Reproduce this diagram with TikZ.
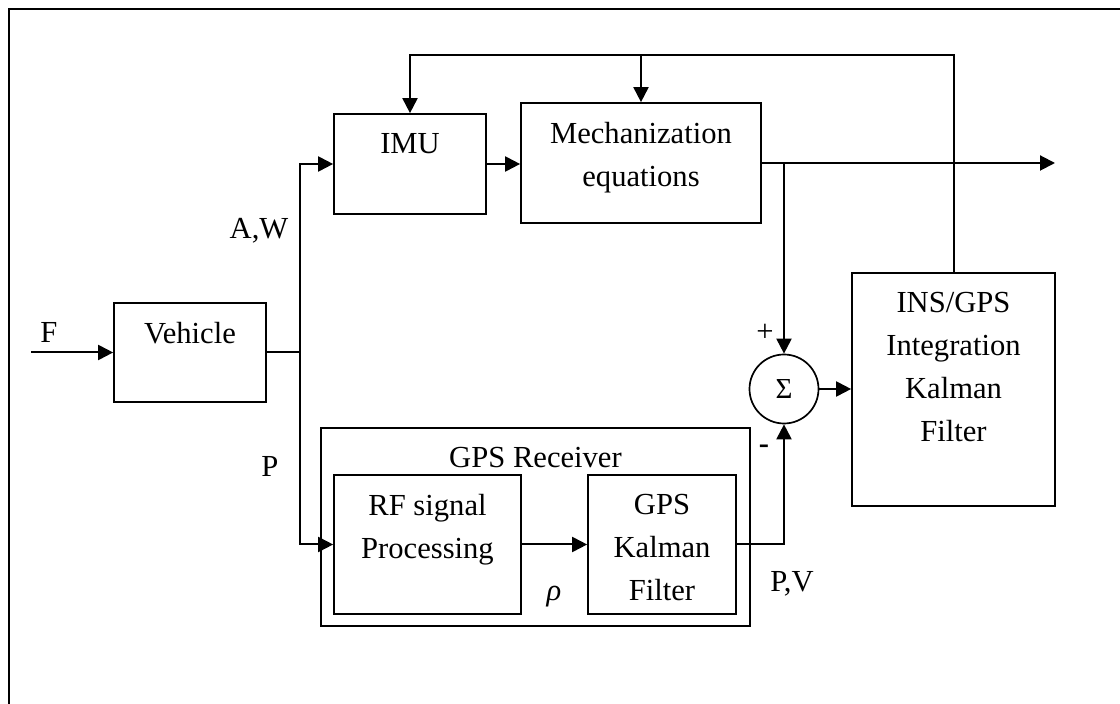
\documentclass[tikz,border=0pt]{standalone}
\usepackage{fontspec}
\setmainfont{Liberation Serif}
\usetikzlibrary{arrows.meta}

\tikzset{
  blk/.style={draw, line width=0.85pt, inner sep=0pt},
  boxtxt/.style={anchor=north, inner sep=0pt, align=center, yshift=-9.8pt},
  lbl/.style={inner sep=0pt, anchor=base},
  wire/.style={line width=1pt},
  sig/.style={wire, -{Triangle[length=7.5pt,width=7.5pt]}},
}

\begin{document}
\begin{tikzpicture}[x=0.5pt, y=-0.5pt, font=\fontsize{15.3pt}{21.5pt}\selectfont]
    \useasboundingbox (0,0) rectangle (1120,704);
    % frame
    \draw[line width=1pt] (9,704) -- (9,9) -- (1120,9);

    % blocks
    \node[blk, minimum width=76pt, minimum height=49.5pt] (veh) at (190,352.5) {};
    \node[blk, minimum width=76pt, minimum height=50pt] (imu) at (410,164) {};
    \node[blk, minimum width=120pt, minimum height=60pt] (mech) at (641,163) {};
    \node[blk, minimum width=101.5pt, minimum height=116.5pt] (ins) at (953.5,389.5) {};
    \node[blk, minimum width=214.5pt, minimum height=99pt] (gps) at (535.5,527) {};
    \node[blk, minimum width=93.5pt, minimum height=69.5pt] (rf) at (427.5,544.5) {};
    \node[blk, minimum width=74pt, minimum height=69.5pt] (gkf) at (662,544.5) {};
    \node[blk, circle, minimum size=34.5pt, font=\fontsize{14.5pt}{16pt}\selectfont] (sum) at (784,389) {Σ};

    % block texts
    \node[boxtxt] (vehtxt) at (veh.north) {Vehicle};
    \node[boxtxt] (imutxt) at (imu.north) {IMU};
    \node[boxtxt] (mechtxt) at (mech.north) {Mechanization\\equations};
    \node[boxtxt] (instxt) at (ins.north) {INS/GPS\\Integration\\Kalman\\Filter};
    \node[boxtxt] (gpstxt) at (gps.north) {GPS Receiver};
    \node[boxtxt] (rftxt) at (rf.north) {RF signal\\Processing};
    \node[boxtxt] (gkftxt) at (gkf.north) {GPS\\Kalman\\Filter};

    % signal labels
    \node[lbl] (flbl) at (49,343) {F};
    \node[lbl] (awlbl) at (259,239) {A,W};
    \node[lbl] (plbl) at (270,477) {P};
    \node[lbl] (pvlbl) at (792,592) {P,V};
    \node (rholbl) at (554,597) {\itshape ρ};
    \node (plus) at (765,333) {+};
    \node (minus) at (764,449) {\textbf{-}};

    % connectors
    \coordinate (fin) at (31,352.5);
    \coordinate (split) at (300,352.5);
    \coordinate (out) at (1055,163);
    \coordinate (tap) at (784,163);
    \coordinate (fbk) at (953.5,55);
    \draw[sig] (fin) -- (veh.west);
    \draw[wire] (veh.east) -- (split);
    \draw[sig] (split) |- (imu.west);
    \draw[sig] (split) |- (rf.west);
    \draw[sig] (imu.east) -- (mech.west |- imu.east);
    \draw[sig] (mech.east) -- (out);
    \draw[sig] (tap) -- (sum.north);
    \draw[sig] (rf.east) -- (gkf.west);
    \draw[sig] (gkf.east) -| (sum.south);
    \draw[sig] (sum.east) -- (ins.west |- sum.east);
    \draw[sig] (ins.north) -- (fbk) -| (imu.north);
    \draw[sig] (mech.north |- fbk) -- (mech.north);
\end{tikzpicture}
\end{document}
